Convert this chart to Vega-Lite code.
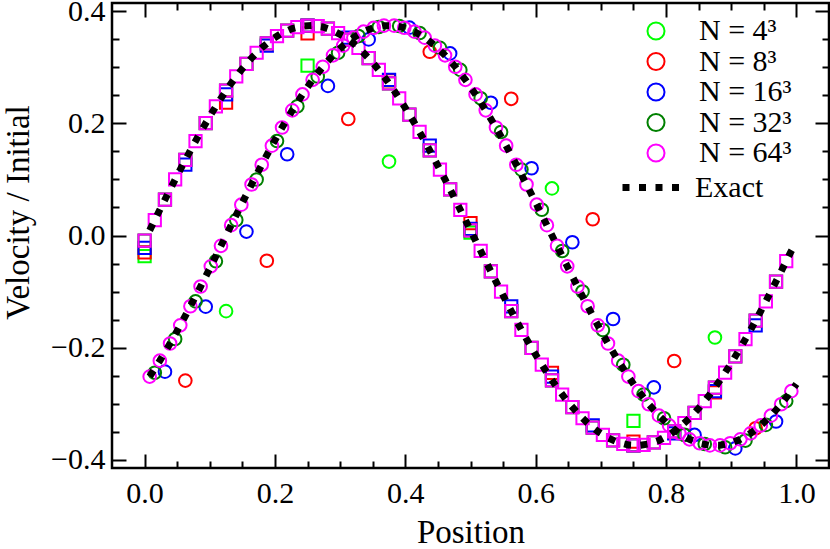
{
"$schema": "https://vega.github.io/schema/vega-lite/v6.json",
"width": 717, "height": 465,
"autosize": "none",
"padding": {"left": 112, "top": 3, "right": 1, "bottom": 81},
"background": "white",
"config": {
  "font": "Liberation Serif",
  "view": {"stroke": "black", "strokeWidth": 2.5},
  "axis": {"grid": false, "domain": false, "tickColor": "black", "tickWidth": 2, "labelColor": "black", "labelFont": "Liberation Serif", "labelFontSize": 30, "titleFont": "Liberation Serif", "titleFontSize": 33, "titleFontWeight": "normal", "titleColor": "black"}
},
"datasets": {
"squares": [
{"series":"N = 4³","x":0,"y":-0.037},{"series":"N = 4³","x":0.25,"y":0.303},{"series":"N = 4³","x":0.5,"y":0.005},{"series":"N = 4³","x":0.75,"y":-0.331},
{"series":"N = 8³","x":0,"y":-0.030},{"series":"N = 8³","x":0.125,"y":0.237},{"series":"N = 8³","x":0.25,"y":0.361},{"series":"N = 8³","x":0.375,"y":0.277},{"series":"N = 8³","x":0.5,"y":0.022},{"series":"N = 8³","x":0.625,"y":-0.245},{"series":"N = 8³","x":0.75,"y":-0.368},{"series":"N = 8³","x":0.875,"y":-0.280},
{"series":"N = 16³","x":0,"y":-0.022},{"series":"N = 16³","x":0.0625,"y":0.1263},{"series":"N = 16³","x":0.125,"y":0.2518},{"series":"N = 16³","x":0.1875,"y":0.3390},{"series":"N = 16³","x":0.25,"y":0.3746},{"series":"N = 16³","x":0.3125,"y":0.3531},{"series":"N = 16³","x":0.375,"y":0.2779},{"series":"N = 16³","x":0.4375,"y":0.1603},{"series":"N = 16³","x":0.5,"y":0.012},{"series":"N = 16³","x":0.5625,"y":-0.1263},{"series":"N = 16³","x":0.625,"y":-0.2518},{"series":"N = 16³","x":0.6875,"y":-0.3390},{"series":"N = 16³","x":0.75,"y":-0.3746},{"series":"N = 16³","x":0.8125,"y":-0.3531},{"series":"N = 16³","x":0.875,"y":-0.2779},{"series":"N = 16³","x":0.9375,"y":-0.1603},
{"series":"N = 32³","x":0,"y":-0.0092},{"series":"N = 32³","x":0.03125,"y":0.0641},{"series":"N = 32³","x":0.0625,"y":0.1349},{"series":"N = 32³","x":0.09375,"y":0.2006},{"series":"N = 32³","x":0.125,"y":0.2585},{"series":"N = 32³","x":0.15625,"y":0.3065},{"series":"N = 32³","x":0.1875,"y":0.3428},{"series":"N = 32³","x":0.21875,"y":0.3658},{"series":"N = 32³","x":0.25,"y":0.3748},{"series":"N = 32³","x":0.28125,"y":0.3694},{"series":"N = 32³","x":0.3125,"y":0.3498},{"series":"N = 32³","x":0.34375,"y":0.3167},{"series":"N = 32³","x":0.375,"y":0.2716},{"series":"N = 32³","x":0.40625,"y":0.2159},{"series":"N = 32³","x":0.4375,"y":0.1519},{"series":"N = 32³","x":0.46875,"y":0.0822},{"series":"N = 32³","x":0.5,"y":0.0092},{"series":"N = 32³","x":0.53125,"y":-0.0641},{"series":"N = 32³","x":0.5625,"y":-0.1349},{"series":"N = 32³","x":0.59375,"y":-0.2006},{"series":"N = 32³","x":0.625,"y":-0.2585},{"series":"N = 32³","x":0.65625,"y":-0.3065},{"series":"N = 32³","x":0.6875,"y":-0.3428},{"series":"N = 32³","x":0.71875,"y":-0.3658},{"series":"N = 32³","x":0.75,"y":-0.3748},{"series":"N = 32³","x":0.78125,"y":-0.3694},{"series":"N = 32³","x":0.8125,"y":-0.3498},{"series":"N = 32³","x":0.84375,"y":-0.3167},{"series":"N = 32³","x":0.875,"y":-0.2716},{"series":"N = 32³","x":0.90625,"y":-0.2159},{"series":"N = 32³","x":0.9375,"y":-0.1519},{"series":"N = 32³","x":0.96875,"y":-0.0822},
{"series":"N = 64³","x":0,"y":-0.0092},{"series":"N = 64³","x":0.015625,"y":0.0276},{"series":"N = 64³","x":0.03125,"y":0.0641},{"series":"N = 64³","x":0.046875,"y":0.1000},{"series":"N = 64³","x":0.0625,"y":0.1349},{"series":"N = 64³","x":0.078125,"y":0.1686},{"series":"N = 64³","x":0.09375,"y":0.2006},{"series":"N = 64³","x":0.109375,"y":0.2307},{"series":"N = 64³","x":0.125,"y":0.2585},{"series":"N = 64³","x":0.140625,"y":0.2839},{"series":"N = 64³","x":0.15625,"y":0.3065},{"series":"N = 64³","x":0.171875,"y":0.3262},{"series":"N = 64³","x":0.1875,"y":0.3428},{"series":"N = 64³","x":0.203125,"y":0.3560},{"series":"N = 64³","x":0.21875,"y":0.3658},{"series":"N = 64³","x":0.234375,"y":0.3721},{"series":"N = 64³","x":0.25,"y":0.3748},{"series":"N = 64³","x":0.265625,"y":0.3739},{"series":"N = 64³","x":0.28125,"y":0.3694},{"series":"N = 64³","x":0.296875,"y":0.3614},{"series":"N = 64³","x":0.3125,"y":0.3498},{"series":"N = 64³","x":0.328125,"y":0.3349},{"series":"N = 64³","x":0.34375,"y":0.3167},{"series":"N = 64³","x":0.359375,"y":0.2956},{"series":"N = 64³","x":0.375,"y":0.2716},{"series":"N = 64³","x":0.390625,"y":0.2449},{"series":"N = 64³","x":0.40625,"y":0.2159},{"series":"N = 64³","x":0.421875,"y":0.1848},{"series":"N = 64³","x":0.4375,"y":0.1519},{"series":"N = 64³","x":0.453125,"y":0.1176},{"series":"N = 64³","x":0.46875,"y":0.0822},{"series":"N = 64³","x":0.484375,"y":0.0459},{"series":"N = 64³","x":0.5,"y":0.0092},{"series":"N = 64³","x":0.515625,"y":-0.0276},{"series":"N = 64³","x":0.53125,"y":-0.0641},{"series":"N = 64³","x":0.546875,"y":-0.1000},{"series":"N = 64³","x":0.5625,"y":-0.1349},{"series":"N = 64³","x":0.578125,"y":-0.1686},{"series":"N = 64³","x":0.59375,"y":-0.2006},{"series":"N = 64³","x":0.609375,"y":-0.2307},{"series":"N = 64³","x":0.625,"y":-0.2585},{"series":"N = 64³","x":0.640625,"y":-0.2839},{"series":"N = 64³","x":0.65625,"y":-0.3065},{"series":"N = 64³","x":0.671875,"y":-0.3262},{"series":"N = 64³","x":0.6875,"y":-0.3428},{"series":"N = 64³","x":0.703125,"y":-0.3560},{"series":"N = 64³","x":0.71875,"y":-0.3658},{"series":"N = 64³","x":0.734375,"y":-0.3721},{"series":"N = 64³","x":0.75,"y":-0.3748},{"series":"N = 64³","x":0.765625,"y":-0.3739},{"series":"N = 64³","x":0.78125,"y":-0.3694},{"series":"N = 64³","x":0.796875,"y":-0.3614},{"series":"N = 64³","x":0.8125,"y":-0.3498},{"series":"N = 64³","x":0.828125,"y":-0.3349},{"series":"N = 64³","x":0.84375,"y":-0.3167},{"series":"N = 64³","x":0.859375,"y":-0.2956},{"series":"N = 64³","x":0.875,"y":-0.2716},{"series":"N = 64³","x":0.890625,"y":-0.2449},{"series":"N = 64³","x":0.90625,"y":-0.2159},{"series":"N = 64³","x":0.921875,"y":-0.1848},{"series":"N = 64³","x":0.9375,"y":-0.1519},{"series":"N = 64³","x":0.953125,"y":-0.1176},{"series":"N = 64³","x":0.96875,"y":-0.0822},{"series":"N = 64³","x":0.984375,"y":-0.0459}
],
"circles": [
{"series":"N = 4³","x":0.125,"y":-0.135},{"series":"N = 4³","x":0.375,"y":0.132},{"series":"N = 4³","x":0.625,"y":0.084},{"series":"N = 4³","x":0.875,"y":-0.182},
{"series":"N = 8³","x":0.0625,"y":-0.259},{"series":"N = 8³","x":0.1875,"y":-0.045},{"series":"N = 8³","x":0.3125,"y":0.208},{"series":"N = 8³","x":0.4375,"y":0.328},{"series":"N = 8³","x":0.5625,"y":0.244},{"series":"N = 8³","x":0.6875,"y":0.029},{"series":"N = 8³","x":0.8125,"y":-0.224},{"series":"N = 8³","x":0.9375,"y":-0.344},
{"series":"N = 16³","x":0.03125,"y":-0.243},{"series":"N = 16³","x":0.09375,"y":-0.127},{"series":"N = 16³","x":0.15625,"y":0.007},{"series":"N = 16³","x":0.21875,"y":0.145},{"series":"N = 16³","x":0.28125,"y":0.267},{"series":"N = 16³","x":0.34375,"y":0.350},{"series":"N = 16³","x":0.40625,"y":0.371},{"series":"N = 16³","x":0.46875,"y":0.325},{"series":"N = 16³","x":0.53125,"y":0.237},{"series":"N = 16³","x":0.59375,"y":0.120},{"series":"N = 16³","x":0.65625,"y":-0.012},{"series":"N = 16³","x":0.71875,"y":-0.149},{"series":"N = 16³","x":0.78125,"y":-0.271},{"series":"N = 16³","x":0.84375,"y":-0.356},{"series":"N = 16³","x":0.90625,"y":-0.380},{"series":"N = 16³","x":0.96875,"y":-0.332},
{"series":"N = 32³","x":0.015625,"y":-0.2449},{"series":"N = 32³","x":0.046875,"y":-0.1848},{"series":"N = 32³","x":0.078125,"y":-0.1176},{"series":"N = 32³","x":0.109375,"y":-0.0459},{"series":"N = 32³","x":0.140625,"y":0.0276},{"series":"N = 32³","x":0.171875,"y":0.1000},{"series":"N = 32³","x":0.203125,"y":0.1686},{"series":"N = 32³","x":0.234375,"y":0.2307},{"series":"N = 32³","x":0.265625,"y":0.2839},{"series":"N = 32³","x":0.296875,"y":0.3262},{"series":"N = 32³","x":0.328125,"y":0.3560},{"series":"N = 32³","x":0.359375,"y":0.3721},{"series":"N = 32³","x":0.390625,"y":0.3739},{"series":"N = 32³","x":0.421875,"y":0.3614},{"series":"N = 32³","x":0.453125,"y":0.3349},{"series":"N = 32³","x":0.484375,"y":0.2956},{"series":"N = 32³","x":0.515625,"y":0.2449},{"series":"N = 32³","x":0.546875,"y":0.1848},{"series":"N = 32³","x":0.578125,"y":0.1176},{"series":"N = 32³","x":0.609375,"y":0.0459},{"series":"N = 32³","x":0.640625,"y":-0.0276},{"series":"N = 32³","x":0.671875,"y":-0.1000},{"series":"N = 32³","x":0.703125,"y":-0.1686},{"series":"N = 32³","x":0.734375,"y":-0.2307},{"series":"N = 32³","x":0.765625,"y":-0.2839},{"series":"N = 32³","x":0.796875,"y":-0.3262},{"series":"N = 32³","x":0.828125,"y":-0.3560},{"series":"N = 32³","x":0.859375,"y":-0.3721},{"series":"N = 32³","x":0.890625,"y":-0.3780},{"series":"N = 32³","x":0.921875,"y":-0.3660},{"series":"N = 32³","x":0.953125,"y":-0.3380},{"series":"N = 32³","x":0.984375,"y":-0.2956},
{"series":"N = 64³","x":0.0078,"y":-0.2518},{"series":"N = 64³","x":0.0234,"y":-0.2234},{"series":"N = 64³","x":0.0391,"y":-0.1928},{"series":"N = 64³","x":0.0547,"y":-0.1603},{"series":"N = 64³","x":0.0703,"y":-0.1263},{"series":"N = 64³","x":0.0859,"y":-0.0911},{"series":"N = 64³","x":0.1016,"y":-0.0550},{"series":"N = 64³","x":0.1172,"y":-0.0184},{"series":"N = 64³","x":0.1328,"y":0.0184},{"series":"N = 64³","x":0.1484,"y":0.0550},{"series":"N = 64³","x":0.1641,"y":0.0911},{"series":"N = 64³","x":0.1797,"y":0.1263},{"series":"N = 64³","x":0.1953,"y":0.1603},{"series":"N = 64³","x":0.2109,"y":0.1928},{"series":"N = 64³","x":0.2266,"y":0.2234},{"series":"N = 64³","x":0.2422,"y":0.2518},{"series":"N = 64³","x":0.2578,"y":0.2779},{"series":"N = 64³","x":0.2734,"y":0.3012},{"series":"N = 64³","x":0.2891,"y":0.3216},{"series":"N = 64³","x":0.3047,"y":0.3390},{"series":"N = 64³","x":0.3203,"y":0.3531},{"series":"N = 64³","x":0.3359,"y":0.3638},{"series":"N = 64³","x":0.3516,"y":0.3709},{"series":"N = 64³","x":0.3672,"y":0.3746},{"series":"N = 64³","x":0.3828,"y":0.3746},{"series":"N = 64³","x":0.3984,"y":0.3709},{"series":"N = 64³","x":0.4141,"y":0.3638},{"series":"N = 64³","x":0.4297,"y":0.3531},{"series":"N = 64³","x":0.4453,"y":0.3390},{"series":"N = 64³","x":0.4609,"y":0.3216},{"series":"N = 64³","x":0.4766,"y":0.3012},{"series":"N = 64³","x":0.4922,"y":0.2779},{"series":"N = 64³","x":0.5078,"y":0.2518},{"series":"N = 64³","x":0.5234,"y":0.2234},{"series":"N = 64³","x":0.5391,"y":0.1928},{"series":"N = 64³","x":0.5547,"y":0.1603},{"series":"N = 64³","x":0.5703,"y":0.1263},{"series":"N = 64³","x":0.5859,"y":0.0911},{"series":"N = 64³","x":0.6016,"y":0.0550},{"series":"N = 64³","x":0.6172,"y":0.0184},{"series":"N = 64³","x":0.6328,"y":-0.0184},{"series":"N = 64³","x":0.6484,"y":-0.0550},{"series":"N = 64³","x":0.6641,"y":-0.0911},{"series":"N = 64³","x":0.6797,"y":-0.1263},{"series":"N = 64³","x":0.6953,"y":-0.1603},{"series":"N = 64³","x":0.7109,"y":-0.1928},{"series":"N = 64³","x":0.7266,"y":-0.2234},{"series":"N = 64³","x":0.7422,"y":-0.2518},{"series":"N = 64³","x":0.7578,"y":-0.2779},{"series":"N = 64³","x":0.7734,"y":-0.3012},{"series":"N = 64³","x":0.7891,"y":-0.3216},{"series":"N = 64³","x":0.8047,"y":-0.3390},{"series":"N = 64³","x":0.8203,"y":-0.3531},{"series":"N = 64³","x":0.8359,"y":-0.3638},{"series":"N = 64³","x":0.8516,"y":-0.3709},{"series":"N = 64³","x":0.8672,"y":-0.3746},{"series":"N = 64³","x":0.8828,"y":-0.3746},{"series":"N = 64³","x":0.8984,"y":-0.3709},{"series":"N = 64³","x":0.9141,"y":-0.3638},{"series":"N = 64³","x":0.9297,"y":-0.3531},{"series":"N = 64³","x":0.9453,"y":-0.3390},{"series":"N = 64³","x":0.9609,"y":-0.3216},{"series":"N = 64³","x":0.9766,"y":-0.3012},{"series":"N = 64³","x":0.9922,"y":-0.2779}
],
"exactA": [
{"x":0.0078,"y":0.0092},{"x":0.0234,"y":0.0459},{"x":0.0391,"y":0.0822},{"x":0.0547,"y":0.1176},{"x":0.0703,"y":0.1519},{"x":0.0859,"y":0.1848},{"x":0.1016,"y":0.2159},{"x":0.1172,"y":0.2449},{"x":0.1328,"y":0.2716},{"x":0.1484,"y":0.2956},{"x":0.1641,"y":0.3167},{"x":0.1797,"y":0.3349},{"x":0.1953,"y":0.3498},{"x":0.2109,"y":0.3614},{"x":0.2266,"y":0.3694},{"x":0.2422,"y":0.3739},{"x":0.2578,"y":0.3748},{"x":0.2734,"y":0.3721},{"x":0.2891,"y":0.3658},{"x":0.3047,"y":0.3560},{"x":0.3203,"y":0.3428},{"x":0.3359,"y":0.3262},{"x":0.3516,"y":0.3065},{"x":0.3672,"y":0.2839},{"x":0.3828,"y":0.2585},{"x":0.3984,"y":0.2307},{"x":0.4141,"y":0.2006},{"x":0.4297,"y":0.1686},{"x":0.4453,"y":0.1349},{"x":0.4609,"y":0.1000},{"x":0.4766,"y":0.0641},{"x":0.4922,"y":0.0276},{"x":0.5078,"y":-0.0092},{"x":0.5234,"y":-0.0459},{"x":0.5391,"y":-0.0822},{"x":0.5547,"y":-0.1176},{"x":0.5703,"y":-0.1519},{"x":0.5859,"y":-0.1848},{"x":0.6016,"y":-0.2159},{"x":0.6172,"y":-0.2449},{"x":0.6328,"y":-0.2716},{"x":0.6484,"y":-0.2956},{"x":0.6641,"y":-0.3167},{"x":0.6797,"y":-0.3349},{"x":0.6953,"y":-0.3498},{"x":0.7109,"y":-0.3614},{"x":0.7266,"y":-0.3694},{"x":0.7422,"y":-0.3739},{"x":0.7578,"y":-0.3748},{"x":0.7734,"y":-0.3721},{"x":0.7891,"y":-0.3658},{"x":0.8047,"y":-0.3560},{"x":0.8203,"y":-0.3428},{"x":0.8359,"y":-0.3262},{"x":0.8516,"y":-0.3065},{"x":0.8672,"y":-0.2839},{"x":0.8828,"y":-0.2585},{"x":0.8984,"y":-0.2307},{"x":0.9141,"y":-0.2006},{"x":0.9297,"y":-0.1686},{"x":0.9453,"y":-0.1349},{"x":0.9609,"y":-0.1000},{"x":0.9766,"y":-0.0641},{"x":0.9922,"y":-0.0276},{"x":1.0,"y":-0.012}
],
"exactB": [
{"x":0.0078,"y":-0.2518},{"x":0.0234,"y":-0.2234},{"x":0.0391,"y":-0.1928},{"x":0.0547,"y":-0.1603},{"x":0.0703,"y":-0.1263},{"x":0.0859,"y":-0.0911},{"x":0.1016,"y":-0.0550},{"x":0.1172,"y":-0.0184},{"x":0.1328,"y":0.0184},{"x":0.1484,"y":0.0550},{"x":0.1641,"y":0.0911},{"x":0.1797,"y":0.1263},{"x":0.1953,"y":0.1603},{"x":0.2109,"y":0.1928},{"x":0.2266,"y":0.2234},{"x":0.2422,"y":0.2518},{"x":0.2578,"y":0.2779},{"x":0.2734,"y":0.3012},{"x":0.2891,"y":0.3216},{"x":0.3047,"y":0.3390},{"x":0.3203,"y":0.3531},{"x":0.3359,"y":0.3638},{"x":0.3516,"y":0.3709},{"x":0.3672,"y":0.3746},{"x":0.3828,"y":0.3746},{"x":0.3984,"y":0.3709},{"x":0.4141,"y":0.3638},{"x":0.4297,"y":0.3531},{"x":0.4453,"y":0.3390},{"x":0.4609,"y":0.3216},{"x":0.4766,"y":0.3012},{"x":0.4922,"y":0.2779},{"x":0.5078,"y":0.2518},{"x":0.5234,"y":0.2234},{"x":0.5391,"y":0.1928},{"x":0.5547,"y":0.1603},{"x":0.5703,"y":0.1263},{"x":0.5859,"y":0.0911},{"x":0.6016,"y":0.0550},{"x":0.6172,"y":0.0184},{"x":0.6328,"y":-0.0184},{"x":0.6484,"y":-0.0550},{"x":0.6641,"y":-0.0911},{"x":0.6797,"y":-0.1263},{"x":0.6953,"y":-0.1603},{"x":0.7109,"y":-0.1928},{"x":0.7266,"y":-0.2234},{"x":0.7422,"y":-0.2518},{"x":0.7578,"y":-0.2779},{"x":0.7734,"y":-0.3012},{"x":0.7891,"y":-0.3216},{"x":0.8047,"y":-0.3390},{"x":0.8203,"y":-0.3531},{"x":0.8359,"y":-0.3638},{"x":0.8516,"y":-0.3709},{"x":0.8672,"y":-0.3746},{"x":0.8828,"y":-0.3746},{"x":0.8984,"y":-0.3709},{"x":0.9141,"y":-0.3638},{"x":0.9297,"y":-0.3531},{"x":0.9453,"y":-0.3390},{"x":0.9609,"y":-0.3216},{"x":0.9766,"y":-0.3012},{"x":0.9922,"y":-0.2779},{"x":1.0,"y":-0.2652}
]
},
"resolve": {"axis": {"x": "independent", "y": "independent"}, "scale": {"color": "independent"}, "legend": {"color": "independent"}},
"layer": [
{
  "data": {"name": "squares"},
  "mark": {"type": "point", "shape": "square", "filled": false, "strokeWidth": 2, "size": 150, "opacity": 1},
  "encoding": {
    "x": {"field": "x", "type": "quantitative", "scale": {"domain": [-0.05, 1.05], "nice": false, "zero": false},
      "axis": {"orient": "bottom", "values": [0, 0.2, 0.4, 0.6, 0.8, 1.0], "format": ".1f", "tickSize": -14, "labelPadding": 24, "title": "Position", "titlePadding": 8}},
    "y": {"field": "y", "type": "quantitative", "scale": {"domain": [-0.415, 0.415], "nice": false, "zero": false},
      "axis": {"orient": "left", "values": [-0.4, -0.2, 0, 0.2, 0.4], "labelExpr": "replace(format(datum.value, '.1f'), '-', '−')", "tickSize": -14, "labelPadding": 21, "title": "Velocity / Initial", "titlePadding": 15, "titleY": 209}},
    "color": {"field": "series", "type": "nominal", "legend": null,
      "scale": {"domain": ["N = 4³", "N = 8³", "N = 16³", "N = 32³", "N = 64³"], "range": ["#00ff00", "#ff0000", "#0000ff", "#008000", "#ff00ff"]}}
  }
},
{
  "data": {"name": "circles"},
  "mark": {"type": "point", "shape": "circle", "filled": false, "strokeWidth": 2, "size": 160, "opacity": 1},
  "encoding": {
    "x": {"field": "x", "type": "quantitative", "scale": {"domain": [-0.05, 1.05], "nice": false, "zero": false},
      "axis": {"orient": "bottom", "values": [0.05, 0.1, 0.15, 0.25, 0.3, 0.35, 0.45, 0.5, 0.55, 0.65, 0.7, 0.75, 0.85, 0.9, 0.95], "labels": false, "tickSize": -7, "title": null}},
    "y": {"field": "y", "type": "quantitative", "scale": {"domain": [-0.415, 0.415], "nice": false, "zero": false},
      "axis": {"orient": "left", "values": [-0.35, -0.3, -0.25, -0.15, -0.1, -0.05, 0.05, 0.1, 0.15, 0.25, 0.3, 0.35], "labels": false, "tickSize": -7, "title": null}},
    "color": {"field": "series", "type": "nominal",
      "scale": {"domain": ["N = 4³", "N = 8³", "N = 16³", "N = 32³", "N = 64³"], "range": ["#00ff00", "#ff0000", "#0000ff", "#008000", "#ff00ff"]},
      "legend": {"title": null, "orient": "none", "legendX": 529, "legendY": 13, "padding": 0, "labelFont": "Liberation Serif", "labelFontSize": 30, "labelColor": "black", "labelOffset": 28, "labelLimit": 300, "symbolSize": 290, "symbolStrokeWidth": 2, "symbolType": "circle", "rowPadding": 0.5}}
  }
},
{
  "data": {"name": "exactA"},
  "mark": {"type": "line", "color": "black", "strokeWidth": 7, "strokeCap": "butt"},
  "encoding": {
    "x": {"field": "x", "type": "quantitative", "scale": {"domain": [-0.05, 1.05], "nice": false, "zero": false},
      "axis": {"orient": "top", "values": [0, 0.2, 0.4, 0.6, 0.8, 1.0], "labels": false, "tickSize": -14, "title": null}},
    "y": {"field": "y", "type": "quantitative", "scale": {"domain": [-0.415, 0.415], "nice": false, "zero": false},
      "axis": {"orient": "right", "values": [-0.4, -0.2, 0, 0.2, 0.4], "labels": false, "tickSize": -14, "title": null}},
    "strokeDash": {"datum": "Exact", "type": "nominal", "scale": {"domain": ["Exact"], "range": [[7, 9.5]]},
      "legend": {"title": null, "orient": "none", "legendX": 507, "legendY": 151, "padding": 0, "labelFont": "Liberation Serif", "labelFontSize": 30, "labelColor": "black", "labelOffset": 9, "symbolType": "stroke", "symbolSize": 3600, "symbolStrokeWidth": 7, "symbolStrokeColor": "black", "symbolDash": [7, 9.5]}}
  }
},
{
  "data": {"name": "exactB"},
  "mark": {"type": "line", "color": "black", "strokeWidth": 7, "strokeCap": "butt"},
  "encoding": {
    "x": {"field": "x", "type": "quantitative", "scale": {"domain": [-0.05, 1.05], "nice": false, "zero": false},
      "axis": {"orient": "top", "values": [0.05, 0.1, 0.15, 0.25, 0.3, 0.35, 0.45, 0.5, 0.55, 0.65, 0.7, 0.75, 0.85, 0.9, 0.95], "labels": false, "tickSize": -7, "title": null}},
    "y": {"field": "y", "type": "quantitative", "scale": {"domain": [-0.415, 0.415], "nice": false, "zero": false},
      "axis": {"orient": "right", "values": [-0.35, -0.3, -0.25, -0.15, -0.1, -0.05, 0.05, 0.1, 0.15, 0.25, 0.3, 0.35], "labels": false, "tickSize": -7, "title": null}},
    "strokeDash": {"datum": "Exact", "type": "nominal", "scale": {"domain": ["Exact"], "range": [[7, 9.5]]},
      "legend": {"title": null, "orient": "none", "legendX": 507, "legendY": 151, "padding": 0, "labelFont": "Liberation Serif", "labelFontSize": 30, "labelColor": "black", "labelOffset": 9, "symbolType": "stroke", "symbolSize": 3600, "symbolStrokeWidth": 7, "symbolStrokeColor": "black", "symbolDash": [7, 9.5]}}
  }
}
]
}
